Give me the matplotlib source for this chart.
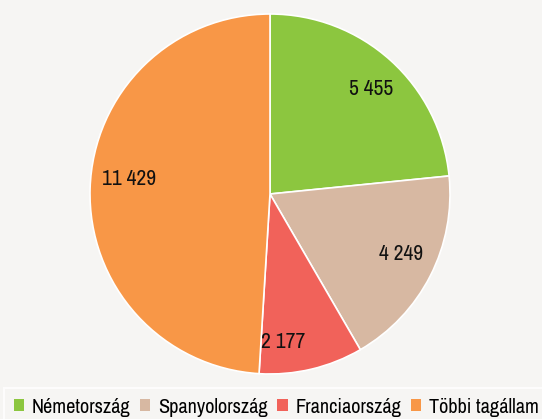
import matplotlib
matplotlib.use("Agg")
import matplotlib.pyplot as plt
import matplotlib.transforms as mtransforms
from matplotlib.patches import Patch
from matplotlib import font_manager

categories = ["Németország", "Spanyolország", "Franciaország", "Többi tagállam"]
values = [5455, 4249, 2177, 11429]
labels = ["5 455", "4 249", "2 177", "11 429"]
colors = ["#8cc63f", "#d7b8a2", "#f1625a", "#f89747"]

names = sorted({f.name for f in font_manager.fontManager.ttflist})
narrow = [n for n in names if "Narrow" in n or "Condensed" in n]
fam = narrow + ['Liberation Sans', 'DejaVu Sans']
plt.rcParams['font.family'] = fam
bg = "#f6f5f3"
fig = plt.figure(figsize=(5.42, 4.19), dpi=100, facecolor=bg)
W, H = 542, 419
cx, cy, r = 270, 194, 180
ax = fig.add_axes([(cx - r) / W, 1 - (cy + r) / H, 2 * r / W, 2 * r / H])
ax.set_facecolor(bg)
wedges, texts = ax.pie(values, colors=colors, startangle=90, counterclock=False,
                       labels=labels, labeldistance=0.8,
                       wedgeprops=dict(edgecolor="white", linewidth=1.2),
                       textprops=dict(fontsize=15.5, color="#111111"))
# small label nudges (points) to mimic the original placement
nudges = [(3.2, -1.4), (2.2, 4), (-14.4, -5.8), (2.2, 7.6)]
for t, (dx, dy) in zip(texts, nudges):
    t.set_ha("center")
    t.set_va("center")
    t.set_transform(t.get_transform() + mtransforms.ScaledTranslation(dx / 72, dy / 72, fig.dpi_scale_trans))
ax.set_aspect("equal")
ax.set_xlim(-1, 1)
ax.set_ylim(-1, 1)

handles = [Patch(facecolor=c, edgecolor="none") for c in colors]
leg = fig.legend(handles, categories, loc="upper left", bbox_to_anchor=(4 / W, 1 - 388 / H),
                 ncol=4, frameon=True, fontsize=15.5, handlelength=0.48, handleheight=0.48,
                 handletextpad=0.35, columnspacing=0.45, borderpad=0.45, borderaxespad=0,
                 fancybox=False, edgecolor="white", facecolor=bg)
leg.get_frame().set_linewidth(1.5)
fig.canvas.draw()
bb = leg.get_window_extent()
target = 537 - 4 + 6
if bb.width > target:
    s = target / bb.width
    for t in leg.get_texts():
        t.set_fontsize(15.5 * s)
fig.savefig("out.png", dpi=100, facecolor=bg)
